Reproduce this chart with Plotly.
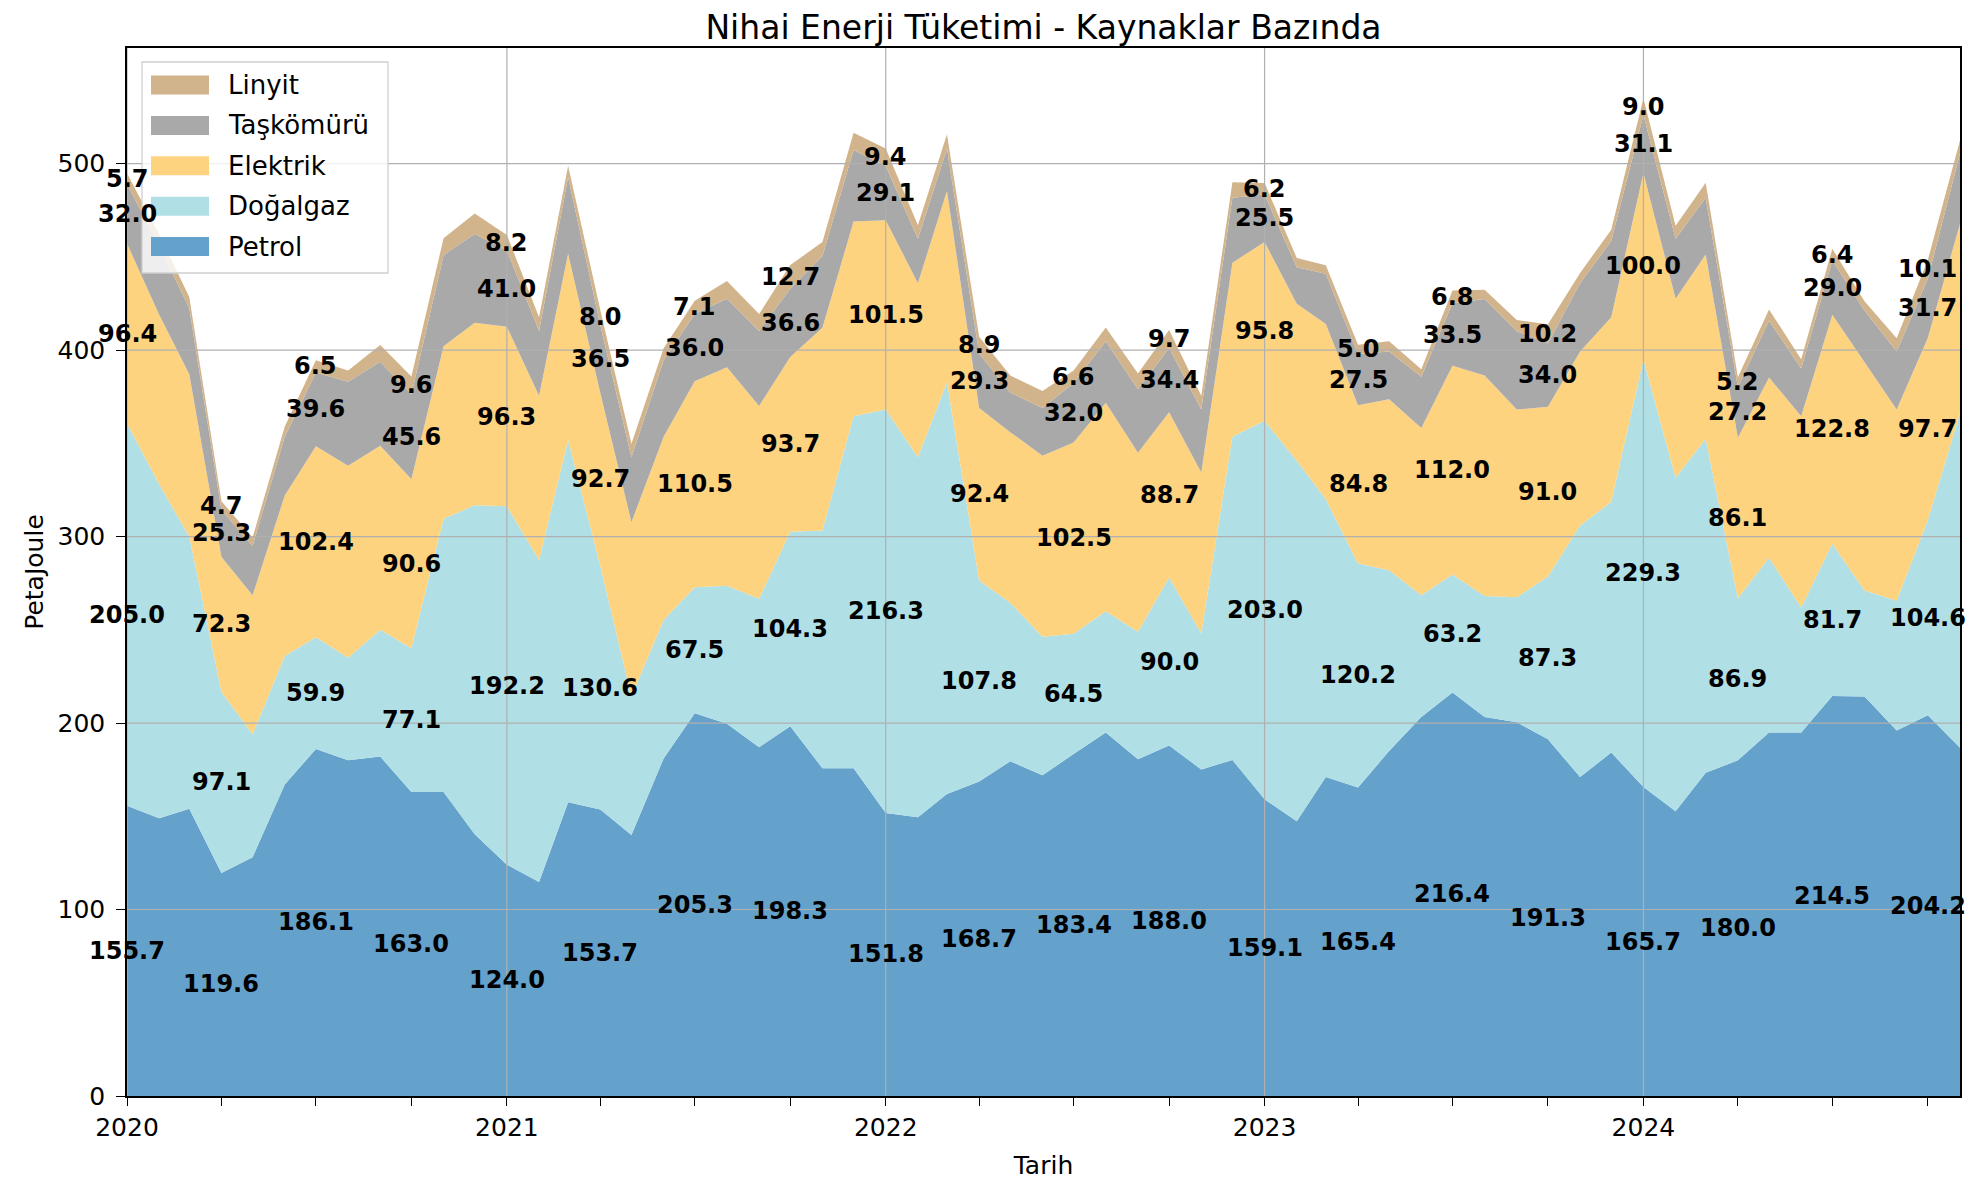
import plotly.graph_objects as go
import pandas as pd

months = pd.date_range("2020-01-01", periods=59, freq="MS")

petrol = [155.7, 149.0, 154.0, 119.6, 128.0, 167.0, 186.1, 180.0, 182.0, 163.0,
          163.0, 140.3, 124.0, 114.7, 157.5, 153.7, 140.0, 181.0, 205.3, 199.6,
          187.0, 198.3, 175.8, 175.8, 151.8, 149.5, 162.0, 168.7, 179.5, 172.0,
          183.4, 194.9, 180.6, 188.0, 175.1, 180.2, 159.1, 147.3, 171.0, 165.4,
          185.0, 203.3, 216.4, 203.3, 200.4, 191.3, 171.0, 184.2, 165.7, 152.7,
          173.3, 180.0, 194.9, 194.9, 214.5, 214.3, 196.0, 204.2, 186.8]
dogalgaz = [205.0, 179.0, 146.0, 97.1, 66.0, 69.0, 59.9, 55.0, 68.0, 77.1,
            146.5, 176.5, 192.2, 172.8, 194.1, 130.6, 74.3, 74.3, 67.5, 74.0,
            79.7, 104.3, 127.5, 188.7, 216.3, 193.0, 220.8, 107.8, 85.0, 74.3,
            64.5, 65.1, 68.4, 90.0, 72.9, 173.3, 203.0, 193.4, 149.0, 120.2,
            97.0, 65.2, 63.2, 64.8, 67.0, 87.3, 134.9, 134.5, 229.3, 178.8,
            179.1, 86.9, 93.7, 67.0, 81.7, 56.8, 69.6, 104.6, 179.5]
elektrik = [96.4, 91.0, 87.0, 72.3, 74.5, 86.0, 102.4, 103.0, 98.7, 90.6,
            92.5, 97.9, 96.3, 88.0, 100.0, 92.7, 93.4, 98.2, 110.5, 117.2,
            103.3, 93.7, 108.7, 104.4, 101.5, 93.4, 102.5, 92.4, 91.5, 97.0,
            102.5, 111.8, 96.0, 88.7, 86.4, 93.4, 95.8, 84.2, 94.0, 84.8,
            91.6, 89.7, 112.0, 118.3, 100.7, 91.0, 93.4, 98.9, 100.0, 96.0,
            98.9, 86.1, 96.7, 102.6, 122.8, 122.7, 102.5, 97.7, 101.5]
taskomuru = [32.0, 37.0, 35.5, 25.3, 26.5, 31.5, 39.6, 45.0, 45.0, 45.6,
             49.0, 47.6, 41.0, 34.8, 41.1, 36.5, 34.8, 41.0, 36.0, 36.7,
             40.3, 36.6, 38.5, 38.4, 29.1, 23.8, 22.7, 29.3, 21.3, 25.6,
             32.0, 33.0, 34.0, 34.4, 33.7, 34.8, 25.5, 19.5, 27.0, 27.5,
             25.7, 27.5, 33.5, 41.0, 42.0, 34.0, 36.6, 41.0, 31.1, 32.2,
             30.4, 27.2, 30.5, 25.6, 29.0, 27.4, 31.2, 31.7, 37.7]
linyit = [5.7, 6.0, 6.0, 4.7, 4.5, 5.5, 6.5, 6.0, 9.0, 9.6,
          9.0, 11.0, 8.2, 7.3, 6.2, 8.0, 7.3, 6.5, 7.1, 9.5,
          9.0, 12.7, 7.4, 9.2, 9.4, 7.3, 7.8, 8.9, 9.1, 9.1,
          6.6, 7.3, 8.4, 9.7, 7.4, 8.3, 6.2, 5.0, 4.5, 5.0,
          5.5, 4.0, 6.8, 5.0, 6.0, 10.2, 5.5, 6.0, 9.0, 7.0,
          8.0, 5.2, 6.0, 5.0, 6.4, 5.0, 7.0, 10.1, 7.0]

series_names = ["Petrol", "Doğalgaz", "Elektrik", "Taşkömürü", "Linyit"]
series_values = [petrol, dogalgaz, elektrik, taskomuru, linyit]
series_colors = ["#64a1cb", "#b0dfe5", "#fed380", "#a9a9a9", "#d2b48c"]

FONT = "DejaVu Sans"

# page geometry (page has 8px body offset)
W, H = 1967, 1174
ML, MR, MT, MB = 119, 15, 40, 86
PX0, PY0 = 127, 48            # plot area top-left on page
PW, PH = 1833, 1048           # plot area size


def px(xp):
    return (xp - PX0) / PW


def py(yp):
    return (PY0 + PH - yp) / PH


fig = go.Figure()
for name, vals, col in zip(series_names, series_values, series_colors):
    fig.add_trace(go.Scatter(
        x=months, y=vals, name=name, mode="lines", stackgroup="one",
        line=dict(width=0, color=col), fillcolor=col,
        hoverinfo="skip", showlegend=False))

annotations = []
for i in range(0, len(months), 3):
    cum = 0.0
    for vals in series_values:
        v = vals[i]
        annotations.append(dict(
            x=months[i], y=cum + v / 2, xref="x", yref="y",
            text=f"<b>{v:.1f}</b>", showarrow=False,
            font=dict(family=FONT, size=24, color="black"),
            xanchor="center", yanchor="middle"))
        cum += v

shapes = []
for yr in ["2020-01-01", "2021-01-01", "2022-01-01", "2023-01-01", "2024-01-01"]:
    shapes.append(dict(type="line", xref="x", yref="paper", x0=yr, x1=yr,
                       y0=0, y1=1, line=dict(color="#b0b0b0", width=1.2),
                       layer="above"))
for yv in [100, 200, 300, 400, 500]:
    shapes.append(dict(type="line", xref="paper", yref="y", x0=0, x1=1,
                       y0=yv, y1=yv, line=dict(color="#b0b0b0", width=1.2),
                       layer="above"))

# legend (matplotlib-style box with patches)
shapes.append(dict(type="rect", xref="paper", yref="paper",
                   x0=px(142), x1=px(388), y0=py(273), y1=py(62),
                   fillcolor="rgba(255,255,255,0.8)",
                   line=dict(color="#d0d0d0", width=1.3), layer="above"))
legend_order = ["Linyit", "Taşkömürü", "Elektrik", "Doğalgaz", "Petrol"]
for k, name in enumerate(legend_order):
    cy = 85 + k * 40.4
    col = series_colors[series_names.index(name)]
    shapes.append(dict(type="rect", xref="paper", yref="paper",
                       x0=px(151), x1=px(209), y0=py(cy + 9.5), y1=py(cy - 9.5),
                       fillcolor=col, line=dict(width=0), layer="above"))
    annotations.append(dict(x=px(226), y=py(cy), xref="paper", yref="paper",
                            text=name, showarrow=False, xanchor="left",
                            yanchor="middle",
                            font=dict(family=FONT, size=26, color="black")))

fig.update_layout(
    width=W, height=H,
    margin=dict(l=ML, r=MR, t=MT, b=MB, autoexpand=False),
    paper_bgcolor="white", plot_bgcolor="white",
    font=dict(family=FONT, size=25, color="black"),
    title=dict(text="Nihai Enerji Tüketimi - Kaynaklar Bazında",
               x=0.5, xref="paper", xanchor="center",
               y=1 - 19 / H, yref="container", yanchor="middle",
               font=dict(family=FONT, size=33, color="black")),
    showlegend=False,
    annotations=annotations,
    shapes=shapes,
)

fig.update_xaxes(
    range=[months[0], months[-1]], type="date", automargin=False,
    tick0="2020-01-01", dtick="M12", tickformat="%Y",
    ticks="outside", ticklen=8, tickwidth=1.3, tickcolor="black",
    ticklabelstandoff=0,
    showgrid=False, showline=True, mirror=True, linecolor="black", linewidth=1.5,
    tickfont=dict(family=FONT, size=25),
    minor=dict(dtick="M3", tick0="2020-01-01", ticks="outside", ticklen=8,
               tickwidth=1.3, tickcolor="black", showgrid=False),
    title=dict(text="Tarih", font=dict(family=FONT, size=25), standoff=16),
    zeroline=False,
)
fig.update_yaxes(
    range=[0, 562], tick0=0, dtick=100, automargin=False,
    ticks="outside", ticklen=9, tickwidth=1.3, tickcolor="black",
    ticklabelstandoff=6,
    showgrid=False, showline=True, mirror=True, linecolor="black", linewidth=1.5,
    tickfont=dict(family=FONT, size=25),
    title=dict(text="PetaJoule", font=dict(family=FONT, size=25), standoff=7),
    zeroline=False,
)

fig.write_html("out.html")
